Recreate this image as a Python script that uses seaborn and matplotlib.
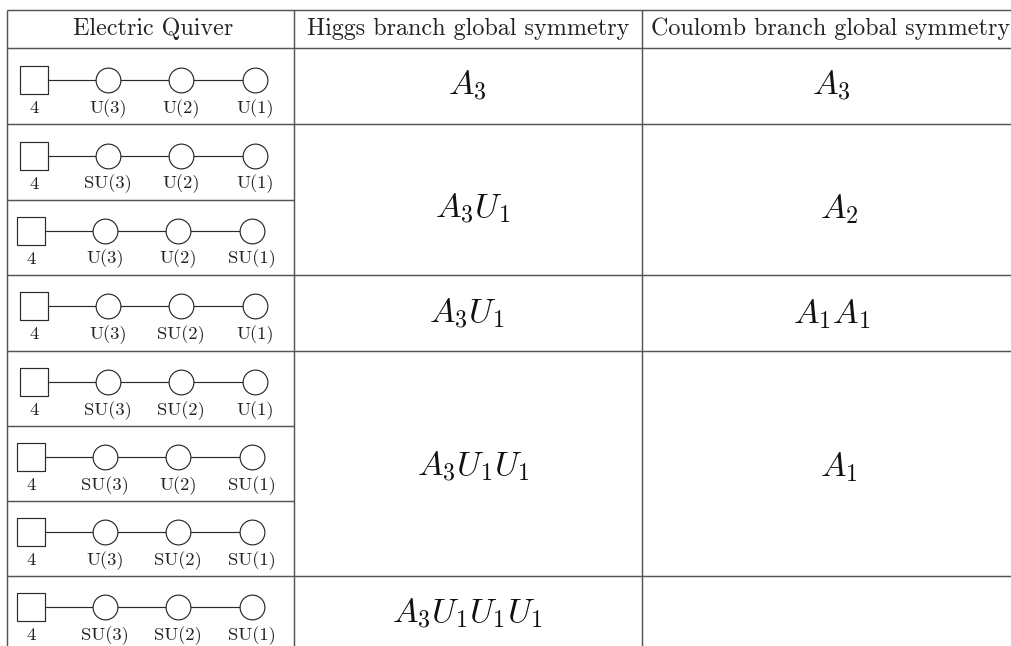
import matplotlib
matplotlib.use("Agg")
import matplotlib.pyplot as plt
import pandas as pd
import seaborn as sns

sns.set_theme(style="white")
plt.rcParams["font.family"] = ["cmr10", "DejaVu Sans"]
plt.rcParams["mathtext.fontset"] = "cm"
plt.rcParams["axes.unicode_minus"] = False

headers = ["Electric Quiver", "Higgs branch global symmetry", "Coulomb branch global symmetry"]
flavor = "4"
gauge_rows = [
    ["U(3)", "U(2)", "U(1)"],
    ["SU(3)", "U(2)", "U(1)"],
    ["U(3)", "U(2)", "SU(1)"],
    ["U(3)", "SU(2)", "U(1)"],
    ["SU(3)", "SU(2)", "U(1)"],
    ["SU(3)", "U(2)", "SU(1)"],
    ["U(3)", "SU(2)", "SU(1)"],
    ["SU(3)", "SU(2)", "SU(1)"],
]
higgs = [r"$A_3$", r"$A_3U_1$", r"$A_3U_1$", r"$A_3U_1U_1$", r"$A_3U_1U_1U_1$"]
coulomb = [r"$A_3$", r"$A_2$", r"$A_1A_1$", r"$A_1$"]

# layout, in pixels of the page
W, H = 1011, 646
row_y = [80, 155.5, 230.5, 306, 381.7, 456.7, 531.7, 607.3]
row_dx = [0, 0, -3, 0, 0, -3, -3, -3]
node_x = [34, 108, 181, 255]
higgs_pos = [(467.5, 95), (473, 218), (467, 322.5), (473, 476), (467, 623)]
coulomb_pos = [(831.5, 95), (839, 218), (831.5, 323), (839, 476)]
full_rules = [10, 48, 124, 275, 351, 576]
first_col_rules = [200, 426, 501]
col_rules = [6.5, 294, 641.5]
header_x = [153, 468, 831]
INK = "#2a2a2a"
RULE = "#555555"

nodes = pd.DataFrame(
    [
        {"row": r, "x": x + row_dx[r], "y": row_y[r], "i": i}
        for r in range(len(gauge_rows))
        for i, x in enumerate(node_x)
    ]
)

fig = plt.figure(figsize=(W / 100, H / 100), dpi=100, facecolor="white")
ax = fig.add_axes([0, 0, 1, 1])

ax.hlines(full_rules, col_rules[0], W, color=RULE, lw=1.05, zorder=1)
ax.hlines(first_col_rules, col_rules[0], col_rules[1], color=RULE, lw=1.05, zorder=1)
ax.vlines(col_rules, full_rules[0], H, color=RULE, lw=1.05, zorder=1)

sns.lineplot(data=nodes, x="x", y="y", units="row", estimator=None, sort=False,
             color=INK, lw=0.85, ax=ax, zorder=2, legend=False)
sns.scatterplot(data=nodes[nodes.i > 0], x="x", y="y", marker="o", s=318,
                facecolor="white", edgecolor=INK, linewidth=0.85, ax=ax, zorder=3, legend=False)
sns.scatterplot(data=nodes[nodes.i == 0], x="x", y="y", marker="s", s=408,
                facecolor="white", edgecolor=INK, linewidth=0.85, ax=ax, zorder=3, legend=False)

for r, labels in enumerate(gauge_rows):
    y = row_y[r] + 28.5
    ax.text(node_x[0] + row_dx[r], y, flavor, ha="center", va="center", fontsize=13.4, color="#222222")
    for x, lab in zip(node_x[1:], labels):
        ax.text(x + row_dx[r], y, lab, ha="center", va="center", fontsize=13.4, color="#222222")

for x, h in zip(header_x, headers):
    ax.text(x, 29, h, ha="center", va="center", fontsize=17.35, color="#222222")
for (x, y), t in zip(higgs_pos, higgs):
    ax.text(x, y, t, ha="center", va="baseline", fontsize=24.7, color="#111111")
for (x, y), t in zip(coulomb_pos, coulomb):
    ax.text(x, y, t, ha="center", va="baseline", fontsize=24.7, color="#111111")

ax.set_xlim(0, W)
ax.set_ylim(H, 0)
ax.set_axis_off()
fig.savefig("out.png", dpi=100)
